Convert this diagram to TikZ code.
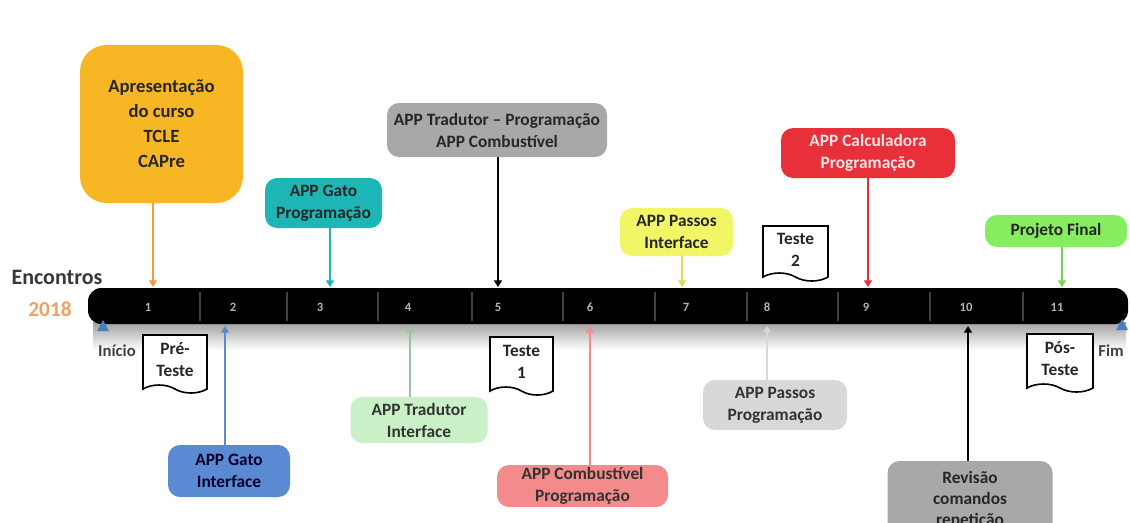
\documentclass[tikz,border=0pt]{standalone}
\usepackage{fontspec}
\setmainfont{Carlito}
\usetikzlibrary{arrows.meta,shapes.symbols}

\definecolor{txt}{HTML}{262626}
\definecolor{cOrange}{HTML}{F7B623}
\definecolor{cOrangeLn}{HTML}{F39A3A}
\definecolor{cTeal}{HTML}{1DB5B5}
\definecolor{cGrey}{HTML}{A8A8A8}
\definecolor{cYellow}{HTML}{F2F565}
\definecolor{cRed}{HTML}{E8303A}
\definecolor{cGreen}{HTML}{86EE5E}
\definecolor{cBlue}{HTML}{5A8AD2}
\definecolor{cLtGreen}{HTML}{CAF0C8}
\definecolor{cPink}{HTML}{F38A8C}
\definecolor{cLtGrey}{HTML}{D8D8D8}
\definecolor{cYear}{HTML}{F0A060}
\definecolor{cTri}{HTML}{4A7EBB}

\begin{document}
\begin{tikzpicture}[x=0.75pt,y=-0.75pt,
  font=\bfseries\fontsize{13}{16.5}\selectfont,
  box/.style={rounded corners=9pt, align=center, inner sep=0pt, text=txt},
  doc/.style={tape, tape bend top=none, tape bend bottom=out and in,
    tape bend height=6pt, draw=black, line width=1.2pt, fill=white,
    align=center, inner sep=1pt, text=txt},
  conn/.style={line width=1.5pt, -{Triangle[width=6pt,length=5pt]}},
  num/.style={text=gray!60!white, font=\bfseries\fontsize{9.5}{11}\selectfont},
  divider/.style={draw=black!75!white, line width=0.8pt},
  tri/.style={fill=cTri},
  edge label/.style={text=black!75!white, font=\bfseries\fontsize{12.5}{14}\selectfont}
]
\useasboundingbox (0,0) rectangle (1130,522);
\clip (0,0) rectangle (1130,522);

% timeline shadow and bar
\shade[top color=gray!75, bottom color=white] (93,322) rectangle (1126,350);
\node[fill=black, rounded corners=10pt, minimum width=1040*0.75pt,
  minimum height=36*0.75pt, inner sep=0pt] (bar) at (608,306) {};

% segment dividers
\foreach \x in {200,287,378,472,563,655,747,838,930,1023}
  \draw[divider] (\x,292) -- (\x,321);

% meeting numbers
\node[num] (n1) at (148,307) {1};
\node[num] (n2) at (233,307) {2};
\node[num] (n3) at (320,307) {3};
\node[num] (n4) at (408,307) {4};
\node[num] (n5) at (498,307) {5};
\node[num] (n6) at (590,307) {6};
\node[num] (n7) at (686,307) {7};
\node[num] (n8) at (767,307) {8};
\node[num] (n9) at (866,307) {9};
\node[num] (n10) at (966,307) {10};
\node[num] (n11) at (1057,307) {11};

% axis labels
\node[text=black!78!white, font=\bfseries\fontsize{16.5}{18}\selectfont] (enc) at (57,277) {Encontros};
\node[text=cYear, font=\bfseries\fontsize{16}{18}\selectfont] (year) at (50,309) {2018};

% start / end markers
\fill[tri] (103,320) -- (109,331) -- (97,331) -- cycle;
\fill[tri] (1122,319) -- (1128,330) -- (1116,330) -- cycle;
\node[edge label] (ini) at (117,351) {Início};
\node[edge label] (fim) at (1111,351) {Fim};

% events above the line
\node[box, fill=cOrange, rounded corners=20pt, minimum width=163*0.75pt,
  minimum height=158*0.75pt, font=\bfseries\fontsize{14}{18.75}\selectfont]
  (e1) at (161.5,124) {Apresentação\\do curso\\TCLE\\CAPre};
\node[box, fill=cTeal, minimum width=117*0.75pt, minimum height=50*0.75pt]
  (e3) at (323.5,203) {APP Gato\\Programação};
\node[box, fill=cGrey, minimum width=220*0.75pt, minimum height=54*0.75pt]
  (e5) at (497,130) {APP Tradutor – Programação\\APP Combustível};
\node[box, fill=cYellow, minimum width=113*0.75pt, minimum height=48*0.75pt]
  (e7) at (676.5,232) {APP Passos\\Interface};
\node[doc, minimum width=65*0.75pt, minimum height=55*0.75pt]
  (t2) at (795.5,249.5) {Teste\\2};
\node[box, fill=cRed, text=white!90!red, minimum width=174*0.75pt,
  minimum height=50*0.75pt] (e9) at (868,153) {APP Calculadora\\Programação};
\node[box, fill=cGreen, minimum width=142*0.75pt, minimum height=32*0.75pt]
  (e11) at (1056,231) {Projeto Final};

% events below the line
\node[doc, minimum width=64*0.75pt, minimum height=58*0.75pt]
  (t0) at (175,360) {Pré-\\Teste};
\node[box, fill=cBlue, text=black!85!blue, minimum width=122*0.75pt,
  minimum height=52*0.75pt] (e2) at (229,471) {APP Gato\\Interface};
\node[box, fill=cLtGreen, text=black!80!white, minimum width=137*0.75pt,
  minimum height=46*0.75pt] (e4) at (419,420) {APP Tradutor\\Interface};
\node[doc, minimum width=63*0.75pt, minimum height=58*0.75pt]
  (t1) at (521.5,362) {Teste\\1};
\node[box, fill=cPink, text=black!80!white, minimum width=171*0.75pt,
  minimum height=42*0.75pt] (e6) at (582.5,486) {APP Combustível\\Programação};
\node[box, fill=cLtGrey, text=black!80!white, minimum width=144*0.75pt,
  minimum height=50*0.75pt] (e8) at (775,405) {APP Passos\\Programação};
\node[box, fill=cGrey, minimum width=165*0.75pt, minimum height=74*0.75pt,
  font=\bfseries\fontsize{13}{15.75}\selectfont, text depth=0pt]
  (e10) at (970,498) {Revisão\\comandos\\repetição};
\node[doc, minimum width=66*0.75pt, minimum height=58*0.75pt]
  (t3) at (1060,359) {Pós-\\Teste};

% anchor points on the bar
\coordinate (a1) at (153,287);
\coordinate (a3) at (330,287);
\coordinate (a5) at (498,287);
\coordinate (a7) at (682,287);
\coordinate (a9) at (868,287);
\coordinate (a11) at (1062,287);
\coordinate (b2) at (225,326);
\coordinate (b4) at (410,326);
\coordinate (b6) at (590,326);
\coordinate (b8) at (767,326);
\coordinate (b10) at (968,326);

% connectors
\draw[conn, cOrangeLn] (e1.south -| a1) -- (a1);
\draw[conn, cTeal] (e3.south -| a3) -- (a3);
\draw[conn, black, line width=1.2pt] (e5.south -| a5) -- (a5);
\draw[conn, cYellow!90!black] (e7.south -| a7) -- (a7);
\draw[conn, cRed] (e9.south -| a9) -- (a9);
\draw[conn, cGreen!90!black] (e11.south -| a11) -- (a11);
\draw[conn, cBlue] (e2.north -| b2) -- (b2);
\draw[conn, cLtGreen!80!black] (e4.north -| b4) -- (b4);
\draw[conn, cPink] (e6.north -| b6) -- (b6);
\draw[conn, cLtGrey] (e8.north -| b8) -- (b8);
\draw[conn, black, line width=1.2pt] (e10.north -| b10) -- (b10);
\end{tikzpicture}
\end{document}
